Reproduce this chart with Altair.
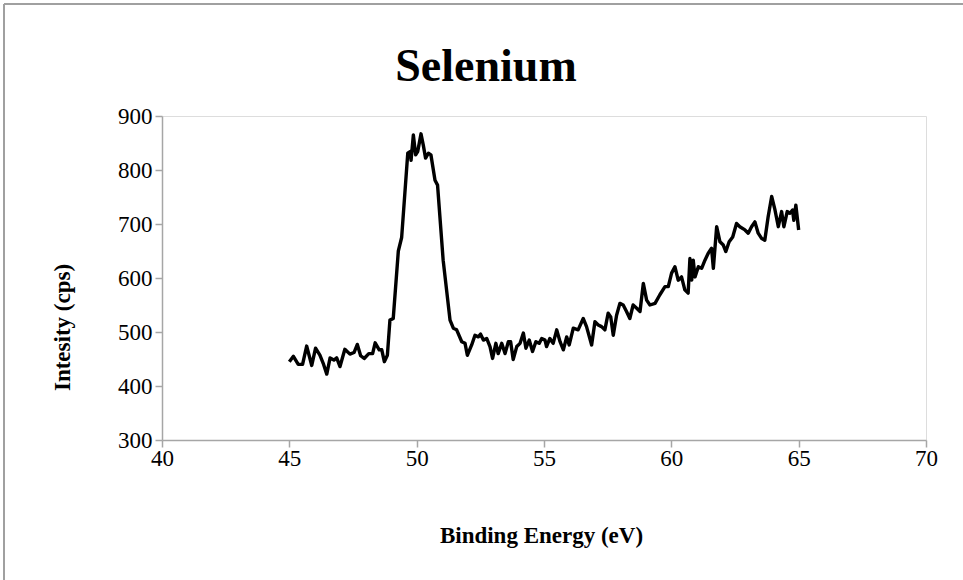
import altair as alt
import pandas as pd

# Binding energy (eV) and intensity (cps)
energy = [45.0, 45.16, 45.35, 45.52, 45.68, 45.88, 46.03, 46.20, 46.33, 46.47,
          46.60, 46.75, 46.86, 46.99, 47.18, 47.38, 47.54, 47.67, 47.80, 47.94,
          48.12, 48.27, 48.37, 48.53, 48.63, 48.73, 48.85, 48.95, 49.08, 49.28,
          49.41, 49.65, 49.74, 49.78, 49.87, 49.96, 50.04, 50.17, 50.26, 50.35,
          50.46, 50.56, 50.72, 50.82, 51.04, 51.31, 51.44, 51.57, 51.77, 51.90,
          51.99, 52.16, 52.29, 52.42, 52.51, 52.62, 52.75, 52.88, 52.98, 53.11,
          53.20, 53.34, 53.47, 53.60, 53.69, 53.79, 53.93, 54.06, 54.19, 54.29,
          54.42, 54.55, 54.68, 54.81, 54.91, 55.04, 55.10, 55.23, 55.36, 55.50,
          55.63, 55.76, 55.89, 55.99, 56.15, 56.34, 56.54, 56.67, 56.87, 57.00,
          57.13, 57.26, 57.39, 57.52, 57.62, 57.72, 57.85, 57.98, 58.11, 58.24,
          58.37, 58.50, 58.64, 58.77, 58.90, 59.03, 59.16, 59.36, 59.55, 59.75,
          59.88, 60.01, 60.14, 60.27, 60.40, 60.53, 60.66, 60.73, 60.80, 60.86,
          60.93, 61.06, 61.19, 61.32, 61.45, 61.58, 61.65, 61.78, 61.91, 62.04,
          62.14, 62.27, 62.41, 62.56, 62.69, 62.89, 63.02, 63.15, 63.28, 63.41,
          63.55, 63.67, 63.80, 63.94, 64.07, 64.20, 64.33, 64.42, 64.55, 64.66,
          64.76, 64.81, 64.89, 65.0]
intensity = [445, 455, 440, 440, 474, 438, 470, 457, 442, 422,
             452, 448, 452, 436, 468, 459, 462, 477, 456, 451,
             460, 460, 480, 467, 467, 445, 457, 522, 525, 650,
             675, 831, 834, 818, 865, 828, 834, 867, 846, 822,
             831, 828, 781, 772, 633, 522, 507, 504, 482, 479,
             457, 476, 494, 491, 496, 485, 488, 473, 451, 479,
             460, 479, 460, 482, 482, 449, 473, 479, 498, 470,
             485, 464, 482, 479, 488, 485, 473, 488, 479, 504,
             482, 467, 491, 476, 507, 504, 525, 510, 476, 519,
             513, 510, 504, 535, 528, 494, 531, 553, 550, 538,
             525, 550, 544, 538, 590, 559, 550, 553, 569, 584,
             584, 609, 621, 596, 602, 578, 572, 636, 596, 633,
             602, 621, 618, 633, 646, 655, 618, 695, 667, 661,
             649, 667, 676, 701, 695, 689, 683, 695, 704, 683,
             673, 670, 713, 751, 726, 695, 723, 695, 723, 720,
             726, 707, 735, 689]

x_ticks = [40, 45, 50, 55, 60, 65, 70]
y_ticks = [300, 400, 500, 600, 700, 800, 900]

df = pd.DataFrame({"energy": energy, "intensity": intensity})

FONT = "Liberation Serif"
AX = "#a6a6a6"

line = alt.Chart(df).mark_line(color="black", strokeWidth=3.4, strokeJoin="round").encode(
    x=alt.X("energy:Q", scale=alt.Scale(domain=[40, 70], nice=False, zero=False),
            axis=alt.Axis(values=x_ticks, title="Binding Energy (eV)", grid=False,
                          domainColor=AX, domainWidth=1.5, tickColor=AX, tickWidth=1.5,
                          tickSize=7, labelPadding=0, labelFlush=False, labelFont=FONT,
                          labelFontSize=23, labelColor="black", titleFont=FONT,
                          titleFontSize=23, titleFontWeight="bold", titleColor="black",
                          titleX=379, titleY=95, titleBaseline="middle")),
    y=alt.Y("intensity:Q", scale=alt.Scale(domain=[300, 900], nice=False, zero=False),
            axis=alt.Axis(values=y_ticks, title="Intesity (cps)", grid=False,
                          domainColor=AX, domainWidth=1.5, tickColor=AX, tickWidth=1.5,
                          tickSize=7, labelPadding=3, labelFlush=False, labelFont=FONT,
                          labelFontSize=23, labelColor="black", titleFont=FONT,
                          titleFontSize=23, titleFontWeight="bold", titleColor="black",
                          titleX=-100, titleY=211, titleBaseline="middle")),
    order="energy:Q",
)

border = pd.DataFrame({"k": [0]})
top_rule = alt.Chart(border).mark_rule(color="#a0a0a0", strokeWidth=2).encode(
    x=alt.value(-158), x2=alt.value(820), y=alt.value(-112))
left_rule = alt.Chart(border).mark_rule(color="#a0a0a0", strokeWidth=2).encode(
    x=alt.value(-158), y=alt.value(-112), y2=alt.value(480))

chart = alt.layer(top_rule, left_rule, line).properties(
    width=764, height=324,
    autosize=alt.AutoSizeParams(type="none"),
    padding={"left": 162, "top": 116, "right": 37, "bottom": 140},
    title=alt.TitleParams("Selenium", font=FONT, fontSize=46, fontWeight="bold",
                          color="black", anchor="middle", frame="group", dx=-58,
                          offset=0, dy=124, baseline="alphabetic"),
).configure_view(stroke=None).configure(background="white")

chart.save("out.html", embed_options={"renderer": "svg", "actions": False})
